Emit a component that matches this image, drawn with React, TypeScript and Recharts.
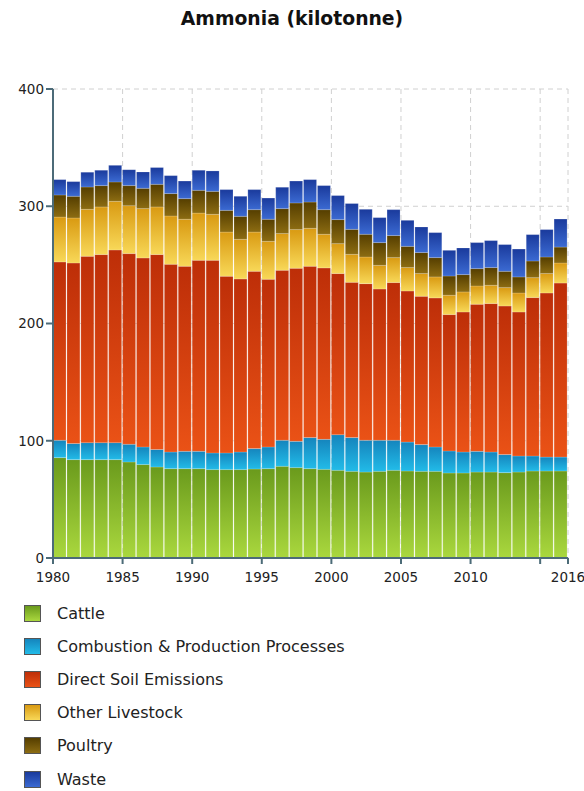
import React from "react";
import { BarChart, Bar, XAxis, YAxis, CartesianGrid } from "recharts";

const years = [
  1980, 1981, 1982, 1983, 1984, 1985, 1986, 1987, 1988, 1989, 1990, 1991, 1992,
  1993, 1994, 1995, 1996, 1997, 1998, 1999, 2000, 2001, 2002, 2003, 2004, 2005,
  2006, 2007, 2008, 2009, 2010, 2011, 2012, 2013, 2014, 2015, 2016,
];

const cattle = [
  85.6, 83.9, 83.9, 83.9, 83.9, 81.9, 79.7, 77.6, 76.2, 76.2, 76.2, 75.4, 75.4,
  75.4, 75.9, 76.2, 78.2, 77.1, 76.2, 75.6, 74.8, 73.9, 73.3, 73.9, 74.8, 74.2,
  73.9, 73.9, 72.5, 72.5, 73.3, 73.3, 72.8, 73.3, 74.2, 74.2, 74.2,
];
const combustion = [
  14.8, 13.7, 14.5, 14.5, 14.5, 15.1, 15.0, 14.9, 14.2, 14.8, 14.8, 14.2, 14.2,
  15.0, 17.4, 18.5, 22.2, 22.4, 26.5, 25.6, 30.4, 28.8, 27.1, 26.5, 25.6, 24.7,
  22.8, 20.8, 18.8, 17.9, 17.7, 17.1, 15.4, 13.7, 12.8, 11.9, 11.9,
];
const directSoil = [
  152.1, 154.0, 158.9, 160.4, 164.3, 162.6, 161.2, 166.3, 160.1, 157.8, 162.9,
  164.3, 150.7, 147.6, 151.2, 143.0, 145.0, 147.6, 146.1, 146.2, 137.4, 132.4,
  133.6, 129.0, 134.5, 128.8, 126.5, 127.1, 116.3, 119.4, 125.4, 126.6, 126.7,
  122.8, 135.1, 139.9, 148.4,
];
const otherLivestock = [
  38.3, 38.4, 40.1, 40.6, 41.5, 40.9, 42.1, 40.6, 41.2, 40.1, 40.3, 39.2, 37.7,
  33.8, 33.5, 32.4, 31.3, 33.0, 32.4, 28.7, 25.5, 23.9, 22.7, 20.2, 21.3, 20.0,
  19.4, 17.9, 16.5, 17.1, 15.6, 15.6, 15.7, 16.2, 17.0, 16.6, 17.1,
];
const poultry = [
  18.8, 18.5, 19.0, 18.2, 16.5, 17.1, 17.3, 19.3, 19.1, 17.6, 19.4, 19.6, 18.5,
  19.6, 19.1, 18.8, 21.3, 22.7, 22.4, 21.0, 20.5, 21.3, 19.4, 19.4, 18.8, 18.1,
  17.9, 16.5, 16.4, 14.8, 14.8, 15.1, 13.9, 13.7, 14.2, 14.1, 13.6,
];
const waste = [
  13.1, 12.5, 12.6, 13.1, 14.2, 13.6, 13.9, 14.3, 15.3, 15.0, 17.1, 17.4, 17.7,
  17.1, 17.1, 18.1, 18.2, 18.7, 19.1, 20.5, 20.5, 22.0, 21.3, 21.3, 22.1, 22.2,
  21.8, 21.3, 21.9, 22.7, 22.2, 23.0, 22.8, 23.8, 22.5, 23.4, 23.9,
];

const yTicks = [0, 100, 200, 300, 400];
const xTicks = [1980, 1985, 1990, 1995, 2000, 2005, 2010, 2015, 2017];
const xTickLabels: Record<number, string> = {
  1980: "1980", 1985: "1985", 1990: "1990", 1995: "1995", 2000: "2000",
  2005: "2005", 2010: "2010", 2015: "", 2017: "2016",
};

const series = [
  { key: "cattle", name: "Cattle", values: cattle, top: "#6a9a1c", bottom: "#aad83e" },
  { key: "combustion", name: "Combustion & Production Processes", values: combustion, top: "#1585bd", bottom: "#22bbe8" },
  { key: "directSoil", name: "Direct Soil Emissions", values: directSoil, top: "#bd2e08", bottom: "#ea5216" },
  { key: "otherLivestock", name: "Other Livestock", values: otherLivestock, top: "#d99a12", bottom: "#f8d858" },
  { key: "poultry", name: "Poultry", values: poultry, top: "#553e00", bottom: "#8c6c12" },
  { key: "waste", name: "Waste", values: waste, top: "#1a3a9c", bottom: "#3b6ad2" },
];

const data = years.map((y, i) => {
  const row: Record<string, number> = { x: y + 0.5 };
  series.forEach((s) => {
    row[s.key] = s.values[i];
  });
  return row;
});

const FONT = "'DejaVu Sans', sans-serif";

export default function App() {
  return (
    <div style={{ position: "absolute", left: 0, top: 0, width: 584, height: 791, background: "#fff", fontFamily: FONT }}>
      <div
        style={{
          position: "absolute",
          top: 8,
          left: 0,
          width: 584,
          textAlign: "center",
          fontSize: 18.8,
          fontWeight: 700,
          color: "#111",
        }}
      >
        Ammonia (kilotonne)
      </div>
      <div style={{ position: "absolute", left: 0, top: 0 }}>
        <BarChart
          width={584}
          height={600}
          data={data}
          margin={{ top: 89, right: 16, left: 0, bottom: 12 }}
          barGap={0}
        >
          <defs>
            {series.map((s) => (
              <linearGradient key={s.key} id={`g-${s.key}`} x1="0" y1="0" x2="0" y2="1">
                <stop offset="0%" stopColor={s.top} />
                <stop offset="100%" stopColor={s.bottom} />
              </linearGradient>
            ))}
          </defs>
          <CartesianGrid stroke="#d0d0d0" strokeDasharray="5 4" verticalValues={xTicks} />
          <XAxis
            dataKey="x"
            type="number"
            domain={[1980, 2017]}
            ticks={xTicks}
            tickFormatter={(v: number) => xTickLabels[v] ?? String(v)}
            interval={0}
            height={30}
            stroke="#4c6b78"
            strokeWidth={2}
            tickSize={6}
            tickMargin={8}
            tick={{ fill: "#222", fontSize: 13.5, fontFamily: FONT }}
            allowDataOverflow
          />
          <YAxis
            domain={[0, 400]}
            ticks={yTicks}
            width={53}
            stroke="#4c6b78"
            strokeWidth={2}
            tickSize={7}
            tick={{ fill: "#222", fontSize: 13.5, fontFamily: FONT }}
          />
          {series.map((s) => (
            <Bar
              key={s.key}
              dataKey={s.key}
              name={s.name}
              stackId="a"
              barSize={13}
              fill={`url(#g-${s.key})`}
              stroke="rgba(255,255,255,0.35)"
              strokeWidth={0.5}
              isAnimationActive={false}
            />
          ))}
        </BarChart>
      </div>
      <div style={{ position: "absolute", left: 24, top: 603 }}>
        {series.map((s, i) => (
          <div
            key={s.key}
            style={{ position: "absolute", left: 0, top: i * 33.2, height: 20, display: "flex", alignItems: "center", whiteSpace: "nowrap" }}
          >
            <div
              style={{
                width: 17,
                height: 17,
                border: "1px solid #555",
                boxSizing: "border-box",
                background: `linear-gradient(${s.top}, ${s.bottom})`,
              }}
            />
            <span style={{ marginLeft: 16, fontSize: 16, color: "#222" }}>{s.name}</span>
          </div>
        ))}
      </div>
    </div>
  );
}
